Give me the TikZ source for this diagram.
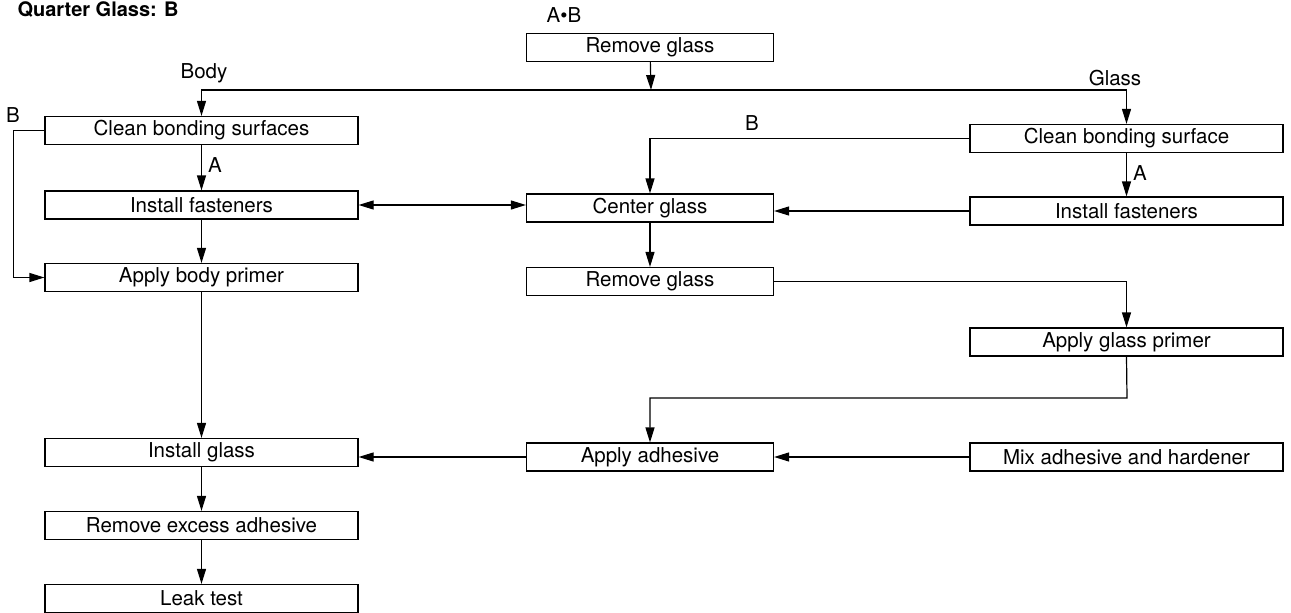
\documentclass[tikz,border=0pt]{standalone}
\usepackage{fontspec}
\setmainfont{TeX Gyre Heros}
\usetikzlibrary{arrows.meta,positioning,calc}

\begin{document}
\begin{tikzpicture}[
  x=1pt, y=-1pt,
  line width=1.2pt,
  task/.style={draw, minimum width=313pt, minimum height=28pt, inner sep=0pt, font=\fontsize{20.5}{23}\selectfont},
  midtask/.style={task, minimum width=247pt},
  lbl/.style={font=\fontsize{20.5}{23}\selectfont, inner sep=0pt},
  flow/.style={-{Triangle[length=15pt,width=9pt]}}
]
\useasboundingbox (0,0) rectangle (1291,613);
\node[anchor=north west, inner sep=0pt, font=\bfseries\fontsize{20}{23}\selectfont] (title) at (17,1) {Quarter Glass: B};

% top
\node[midtask] (remTop) at (650,47.5) {Remove glass};
\node[lbl] (ab) at (564,15) {A•B};
\coordinate (split) at (651,90);

% body side
\node[task] (cleanBody) at (201.5,130.5) {Clean bonding surfaces};
\node[task] (fastBody) at (201.5,205) {Install fasteners};
\node[task] (primBody) at (201.5,277.5) {Apply body primer};
\node[task] (instGlass) at (201.5,452.5) {Install glass};
\node[task] (remExcess) at (201.5,525.5) {Remove excess adhesive};
\node[task] (leak) at (201.5,598.5) {Leak test};
\node[lbl] (body) at (204,73) {Body};

% middle
\node[midtask] (centre) at (650,208) {Center glass};
\node[midtask] (remMid) at (650,281.5) {Remove glass};
\node[midtask] (applyAdh) at (650,457) {Apply adhesive};

% glass side
\node[task] (cleanGlass) at (1126.5,138.5) {Clean bonding surface};
\node[task] (fastGlass) at (1126.5,211) {Install fasteners};
\node[task] (primGlass) at (1126.5,342) {Apply glass primer};
\node[task] (mixAdh) at (1126.5,457) {Mix adhesive and hardener};
\node[lbl] (glass) at (1115,78) {Glass};
\coordinate (turn) at (1127,398);

% connectors
\draw[flow] (remTop) -- (split);
\draw[flow] (split) -| (cleanBody.north);
\draw[flow] (split) -| (cleanGlass.north);
\draw[flow] (cleanBody) -- (fastBody) node[lbl, pos=0.45, right=6pt] (aBody) {A};
\draw[flow] (fastBody) -- (primBody);
\draw[flow] (cleanBody.west) -- ++(-31,0) |- (primBody.west);
\node[lbl] (bBody) at (13,115) {B};
\draw[{Triangle[length=15pt,width=9pt]}-{Triangle[length=15pt,width=9pt]}] (fastBody.east) -- (fastBody.east -| centre.west);
\draw[flow] (cleanGlass.west) -| (centre.north);
\node[lbl] (bGlass) at (752,123) {B};
\draw[flow] (cleanGlass) -- (fastGlass) node[lbl, pos=0.45, right=6pt] (aGlass) {A};
\draw[flow] (fastGlass.west) -- (fastGlass.west -| centre.east);
\draw[flow] (centre) -- (remMid);
\draw[flow] (remMid.east) -| (primGlass.north);
\draw[flow] (primGlass.south) -- (turn) -| (applyAdh.north);
\draw[flow] (mixAdh) -- (applyAdh);
\draw[flow] (applyAdh.west) -- (applyAdh.west -| instGlass.east);
\draw[flow] (primBody) -- (instGlass);
\draw[flow] (instGlass) -- (remExcess);
\draw[flow] (remExcess) -- (leak);
\end{tikzpicture}
\end{document}
